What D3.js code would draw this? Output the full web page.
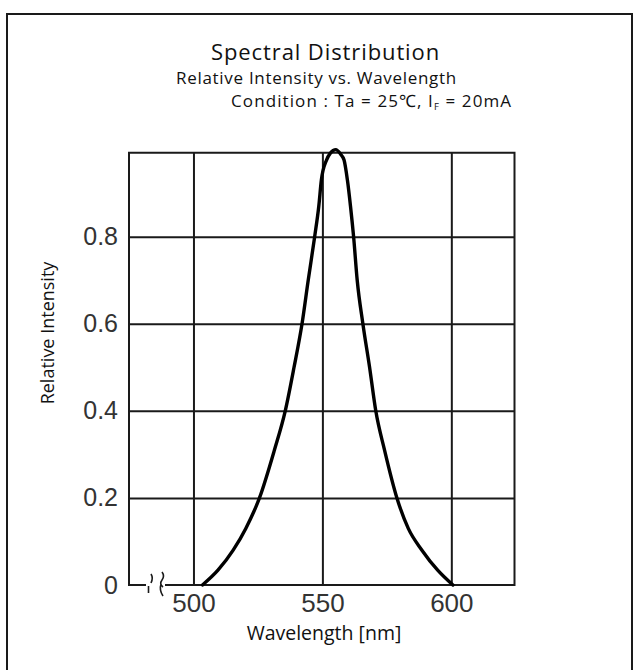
<!DOCTYPE html>
<html>
<head>
<meta charset="utf-8">
<script src="https://cdn.jsdelivr.net/npm/d3@7"></script>
<style>
  html, body { margin: 0; padding: 0; background: #fff; }
  svg { display: block; }
</style>
</head>
<body>
<svg id="chart" width="639" height="670"></svg>
<script>
// ---- data ----
const wavelengths = [503.5, 509.5, 515.4, 520.3, 525.6, 531.4, 535.6, 539.0, 542.1, 544.5, 547.0, 548.6, 549.6, 551.6, 553.1, 555.2, 557.0, 558.4, 559.7, 560.9, 562.1, 563.5, 565.7, 568.3, 570.7, 574.1, 578.9, 583.3, 588.6, 594.7, 600.6];
const intensity   = [0, 0.034, 0.08, 0.13, 0.2, 0.31, 0.4, 0.5, 0.6, 0.7, 0.8, 0.87, 0.93, 0.976, 0.992, 1.0, 0.99, 0.976, 0.93, 0.87, 0.8, 0.7, 0.6, 0.5, 0.4, 0.31, 0.2, 0.13, 0.08, 0.034, 0];
const xTicks = [500, 550, 600];
const yTicks = [0, 0.2, 0.4, 0.6, 0.8];
const xDomain = [475, 624.5];
const yDomain = [0, 1];
const yFrameTop = 0.993;

const titleText = "Spectral Distribution";
const subtitleText = "Relative Intensity vs. Wavelength";
const xLabel = "Wavelength [nm]";
const yLabel = "Relative Intensity";

(function () {
// ---- layout ----
const svg = d3.select("#chart");
const L = 129, R = 514.5, B = 585, T1 = 149.6;
const x = d3.scaleLinear().domain(xDomain).range([L, R]);
const y = d3.scaleLinear().domain(yDomain).range([B, T1]);
const frameTop = y(yFrameTop);
const ink = "#1a1a1a";
const textFont = "'Open Sans', 'Noto Sans', sans-serif";
const tickFont = "'Liberation Sans', Arial, sans-serif";

// outer frame
svg.append("path")
  .attr("d", `M7,700 V14 H632 V700`)
  .attr("fill", "none").attr("stroke", ink).attr("stroke-width", 2);

// titles
svg.append("text").attr("x", 211).attr("y", 60)
  .attr("font-family", textFont).attr("letter-spacing", 0.9)
  .attr("font-size", 22).attr("fill", "#111").text(titleText);
svg.append("text").attr("x", 176).attr("y", 84)
  .attr("font-family", textFont).attr("letter-spacing", 0.7)
  .attr("font-size", 17).attr("fill", "#111").text(subtitleText);
const cond = svg.append("text").attr("x", 231).attr("y", 107)
  .attr("font-family", textFont).attr("letter-spacing", 1.1)
  .attr("font-size", 17).attr("fill", "#111");
cond.append("tspan").text("Condition : Ta = 25\u2103, I");
cond.append("tspan").attr("font-size", 9.5).attr("dy", 3).text("F");
cond.append("tspan").attr("dy", -3).text(" = 20mA");

// grid via axes
const gx = svg.append("g").attr("transform", `translate(0,${B})`)
  .call(d3.axisBottom(x).tickValues(xTicks).tickSize(-(B - frameTop)).tickPadding(9).tickFormat(d3.format("d")));
gx.select(".domain").remove();
gx.selectAll("line").attr("stroke", ink).attr("stroke-width", 2);
gx.selectAll("text").attr("font-family", tickFont).attr("font-size", 26).attr("fill", "#333");

const gy = svg.append("g").attr("transform", `translate(${L},0)`)
  .call(d3.axisLeft(y).tickValues(yTicks).tickSize(-(R - L)).tickPadding(11)
    .tickFormat(d => d === 0 ? "0" : d3.format(".1f")(d)));
gy.select(".domain").remove();
gy.selectAll("line").attr("stroke", ink).attr("stroke-width", 2)
  .attr("display", d => d === 0 ? "none" : null);
gy.selectAll("text").attr("font-family", tickFont).attr("font-size", 25).attr("fill", "#333");

// plot frame with axis break on the baseline
svg.append("path")
  .attr("d", `M146,${B} H${L} V${frameTop} H${R} V${B} H165`)
  .attr("fill", "none").attr("stroke", ink).attr("stroke-width", 2);
svg.append("path").attr("d", `M148.5,${B + 1} v7`)
  .attr("fill", "none").attr("stroke", ink).attr("stroke-width", 1.6);
svg.append("path").attr("d", `M151,${B - 11} q2.5,4 0,9`)
  .attr("fill", "none").attr("stroke", ink).attr("stroke-width", 1.6);
svg.append("path").attr("d", `M162,${B - 13} q3,4 0,8 q-3,4 1,7 M161,${B - 1} q-2,6 2,12`)
  .attr("fill", "none").attr("stroke", ink).attr("stroke-width", 1.6);

// curve
const pts = wavelengths.map((w, i) => [w, intensity[i]]);
svg.append("path").datum(pts)
  .attr("d", d3.line().x(d => x(d[0])).y(d => y(d[1])).curve(d3.curveMonotoneX))
  .attr("fill", "none").attr("stroke", "#000").attr("stroke-width", 3.4)
  .attr("stroke-linejoin", "round").attr("stroke-linecap", "round");

// axis titles
svg.append("text").attr("x", 324).attr("y", 640)
  .attr("text-anchor", "middle").attr("font-family", textFont)
  .attr("font-size", 19.5).attr("fill", "#111").text(xLabel);
svg.append("text").attr("transform", "translate(54,333) rotate(-90)")
  .attr("text-anchor", "middle").attr("font-family", textFont)
  .attr("font-size", 18).attr("fill", "#111").text(yLabel);
})();
</script>
</body>
</html>
